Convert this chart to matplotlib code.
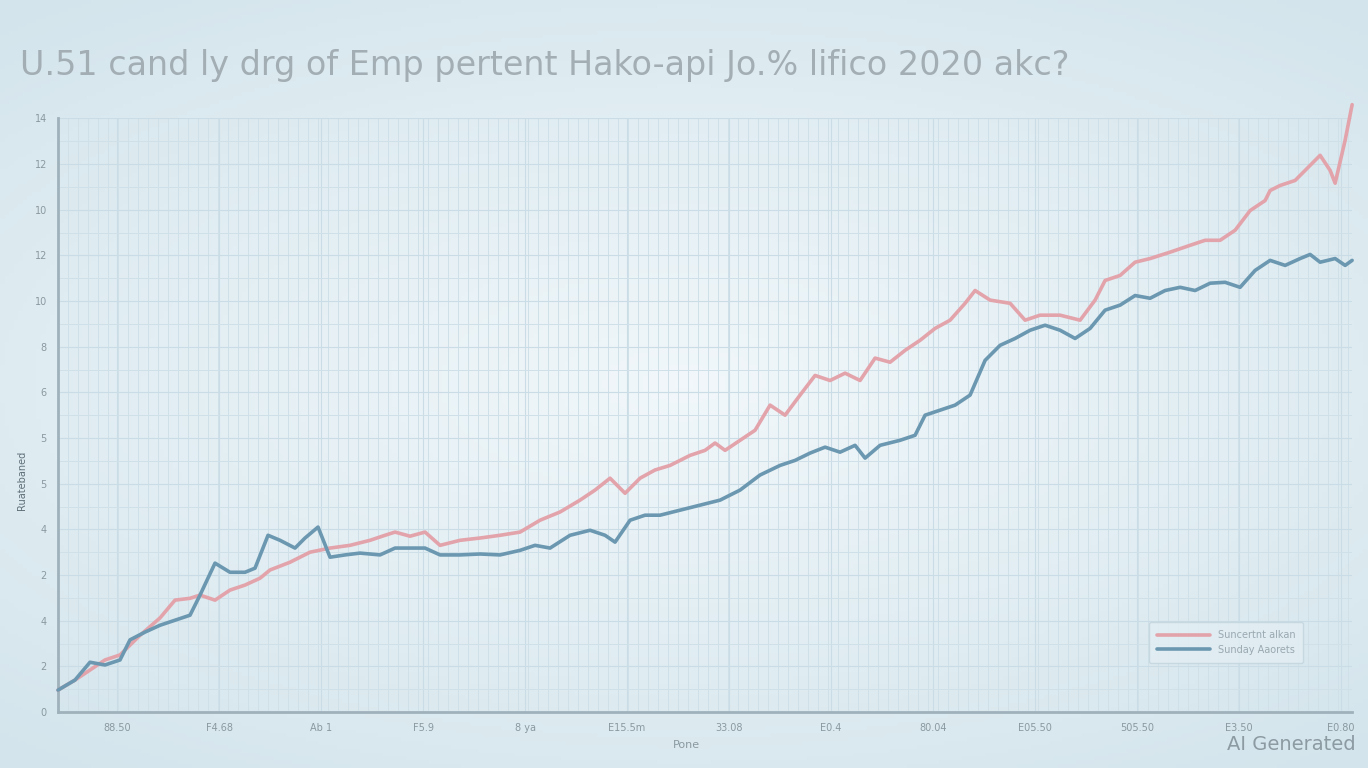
import numpy as np
import matplotlib
matplotlib.use("Agg")
import matplotlib.pyplot as plt

# values (x in periods, y in axis units)
red_x = [0.0, 1.7, 3.2, 4.7, 6.2, 8.2, 10.2, 11.7, 13.2, 14.2, 15.7, 17.2, 18.7, 20.2, 21.2,
         23.2, 25.2, 27.2, 29.2, 31.2, 32.7, 33.7, 35.2, 36.7, 38.2, 40.2, 42.2, 44.2, 46.2,
         48.2, 50.2, 52.2, 53.7, 55.2, 56.7, 58.2, 59.7, 61.2, 63.2, 64.7, 65.7, 66.7, 68.2,
         69.7, 71.2, 72.7, 74.2, 75.7, 77.2, 78.7, 80.2, 81.7, 83.2, 84.7, 86.2, 87.7, 89.2,
         90.7, 91.7, 93.2, 95.2, 96.7, 98.2, 100.2, 102.2, 103.7, 104.7, 106.2, 107.7, 109.2,
         111.2, 113.2, 114.7, 116.2, 117.7, 119.2, 120.7, 121.2, 122.2, 123.7, 125.2, 126.2,
         127.2, 127.7, 128.7, 129.4]
red_y = [0.48, 0.70, 0.92, 1.14, 1.25, 1.68, 2.06, 2.45, 2.49, 2.56, 2.45, 2.67, 2.78, 2.93, 3.11,
         3.28, 3.50, 3.59, 3.65, 3.76, 3.87, 3.94, 3.85, 3.94, 3.65, 3.76, 3.81, 3.87, 3.94,
         4.20, 4.38, 4.64, 4.86, 5.12, 4.79, 5.12, 5.30, 5.40, 5.62, 5.73, 5.89, 5.73, 5.95,
         6.17, 6.72, 6.50, 6.94, 7.37, 7.26, 7.42, 7.26, 7.75, 7.66, 7.92, 8.14, 8.40, 8.58,
         8.95, 9.23, 9.02, 8.95, 8.58, 8.69, 8.69, 8.58, 9.02, 9.45, 9.56, 9.85, 9.93,
         10.07, 10.22, 10.33, 10.33, 10.55, 10.98, 11.20, 11.42, 11.53, 11.64, 11.97, 12.19,
         11.86, 11.58, 12.52, 13.30]

blue_x = [0.0, 1.7, 3.2, 4.7, 6.2, 7.2, 8.7, 10.2, 11.7, 13.2, 14.2, 15.7, 17.2, 18.7, 19.7,
          21.0, 22.2, 23.7, 24.7, 26.0, 27.2, 28.7, 30.2, 32.2, 33.7, 35.2, 36.7, 38.2, 40.2,
          42.2, 44.2, 46.2, 47.7, 49.2, 51.2, 53.2, 54.7, 55.7, 57.2, 58.7, 60.2, 62.2, 64.2,
          66.2, 68.2, 70.2, 72.2, 73.7, 75.2, 76.7, 78.2, 79.7, 80.7, 82.2, 84.2, 85.7, 86.7,
          88.2, 89.7, 91.2, 92.7, 94.2, 95.7, 97.2, 98.7, 100.2, 101.7, 103.2, 104.7, 106.2,
          107.7, 109.2, 110.7, 112.2, 113.7, 115.2, 116.7, 118.2, 119.7, 121.2, 122.7, 124.2,
          125.2, 126.2, 127.7, 128.7, 129.4]
blue_y = [0.48, 0.70, 1.09, 1.03, 1.14, 1.58, 1.75, 1.90, 2.01, 2.12, 2.56, 3.26, 3.06, 3.06, 3.15,
          3.87, 3.76, 3.59, 3.81, 4.05, 3.39, 3.44, 3.48, 3.44, 3.59, 3.59, 3.59, 3.44, 3.44,
          3.46, 3.44, 3.54, 3.65, 3.59, 3.87, 3.98, 3.87, 3.72, 4.20, 4.31, 4.31, 4.42, 4.53,
          4.64, 4.86, 5.19, 5.40, 5.51, 5.67, 5.80, 5.69, 5.84, 5.56, 5.84, 5.95, 6.06, 6.50,
          6.61, 6.72, 6.94, 7.70, 8.03, 8.18, 8.36, 8.47, 8.36, 8.18, 8.40, 8.80, 8.91,
          9.12, 9.06, 9.23, 9.30, 9.23, 9.39, 9.41, 9.30, 9.67, 9.89, 9.78, 9.93,
          10.02, 9.85, 9.93, 9.78, 9.89]

x_labels = ["88.50", "F4.68", "Ab 1", "F5.9", "8 ya", "E15.5m", "33.08", "E0.4",
            "80.04", "E05.50", "505.50", "E3.50", "E0.80"]
y_labels = ["0", "2", "4", "2", "4", "5", "5", "6", "8", "10", "12", "10", "12", "14"]

title = "U.51 cand ly drg of Emp pertent Hako-api Jo.% lifico 2020 akc?"
red_name = "Suncertnt alkan"
blue_name = "Sunday Aaorets"

fig = plt.figure(figsize=(13.68, 7.68), dpi=100)

# soft bluish background, lighter towards the centre
bg = fig.add_axes([0, 0, 1, 1], zorder=-10)
gx, gy = np.meshgrid(np.linspace(-1, 1, 300), np.linspace(-1, 1, 200))
r = np.sqrt((gx * 0.9) ** 2 + (gy * 1.1) ** 2)
bg.imshow(r, cmap=matplotlib.colors.LinearSegmentedColormap.from_list(
    "bg", ["#f1f7fa", "#e2eef3", "#d3e4ec"]), aspect="auto", extent=[0, 1, 0, 1])
bg.axis("off")

ax = fig.add_axes([0.0424, 0.0729, 0.946, 0.773])
ax.set_facecolor("none")

ax.plot(red_x, red_y, color="#e3a3ab", lw=2.6, solid_capstyle="round", label=red_name,
        zorder=3, clip_on=False)
ax.plot(blue_x, blue_y, color="#6b98b0", lw=2.6, solid_capstyle="round", label=blue_name,
        zorder=3, clip_on=False)

xt = 5.9 + 10.2 * np.arange(len(x_labels))
ax.set_xlim(0, 129.4)
ax.set_ylim(0, 13.0)
ax.set_xticks(xt)
ax.set_xticklabels(x_labels, fontsize=7, color="#8a98a0")
ax.set_yticks(np.arange(len(y_labels)))
ax.set_yticklabels(y_labels, fontsize=7, color="#8a98a0")
ax.set_xticks(np.arange(0, 130, 1.0), minor=True)
ax.set_yticks(np.arange(0, 13.01, 0.5), minor=True)
ax.grid(which="minor", color="#cfe0e8", lw=0.7)
ax.grid(which="major", color="#cadce5", lw=0.8)
ax.tick_params(which="both", length=0, pad=8)

for s in ["top", "right"]:
    ax.spines[s].set_visible(False)
for s in ["left", "bottom"]:
    ax.spines[s].set_color("#9fb1bb")
    ax.spines[s].set_linewidth(2)

leg = ax.legend(loc="lower right", bbox_to_anchor=(0.966, 0.075), fontsize=7,
                frameon=True, handlelength=5.5, labelcolor="#9aa8b0", borderpad=0.8)
leg.get_frame().set_facecolor("#e2eef3")
leg.get_frame().set_edgecolor("#c2d4dd")

fig.text(20 / 1368, 1 - 65 / 768, title, fontsize=24, color="#a3aeb4", va="center", ha="left")
fig.text(686 / 1368, 1 - 745 / 768, "Pone", fontsize=8, color="#8a98a0", ha="center", va="center")
fig.text(22 / 1368, 1 - 480 / 768, "Ruatebaned", fontsize=7, color="#5f6f78", rotation=90,
         ha="center", va="center")
fig.text(1356 / 1368, 1 - 745 / 768, "AI Generated", fontsize=14, color="#8c9aa2", ha="right", va="center")

fig.savefig("out.png", dpi=100)
